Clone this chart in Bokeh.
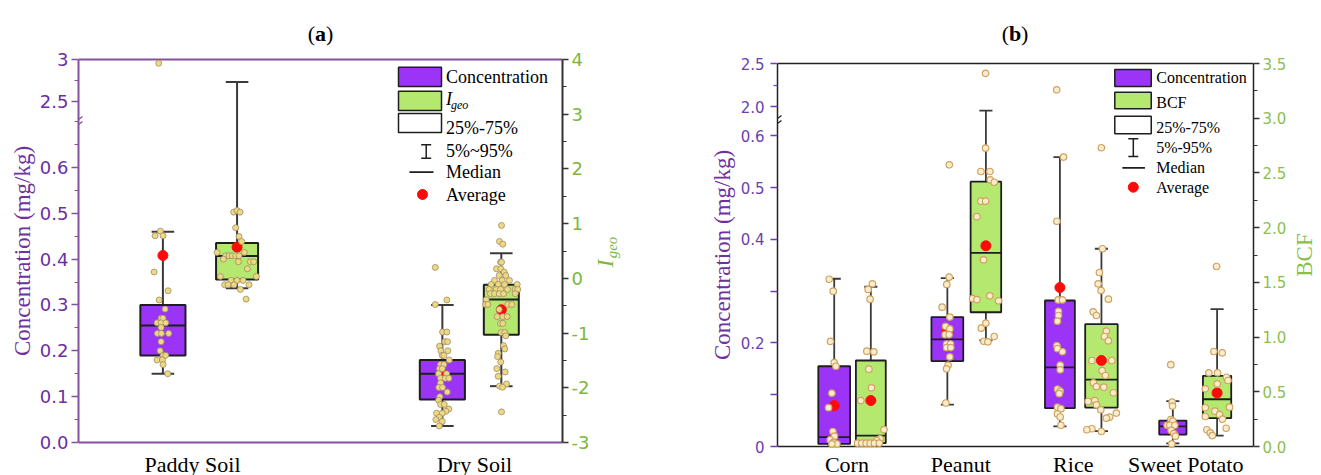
import numpy as np
from bokeh.plotting import figure
from bokeh.models import Range1d, LinearAxis, FixedTicker, Label, Arrow
from bokeh.layouts import row
from bokeh.embed import file_html
from bokeh.resources import INLINE

# ===================== DATA : panel (a) =====================
cats_a = ["Paddy Soil", "Dry Soil"]
# box statistics (5 %, Q1, median, Q3, 95 %, mean)
a_conc_p5 = [0.150, 0.036]
a_conc_q1 = [0.190, 0.094]
a_conc_med = [0.255, 0.150]
a_conc_q3 = [0.300, 0.180]
a_conc_p95 = [0.460, 0.300]
a_conc_mean = [0.408, 0.151]
a_igeo_p5 = [-0.18, -1.97]
a_igeo_q1 = [-0.02, -1.03]
a_igeo_med = [0.41, -0.386]
a_igeo_q3 = [0.645, -0.117]
a_igeo_p95 = [3.59, 0.46]
a_igeo_mean = [0.57, -0.574]

# individual samples (value, horizontal jitter in px)
a_paddy_conc = [2.956, 0.461, 0.451, 0.451, 0.372, 0.331, 0.311, 0.291, 0.271, 0.271, 0.261, 0.261, 0.261,
                0.251, 0.238, 0.238, 0.238, 0.220, 0.200, 0.190, 0.190, 0.180, 0.180, 0.170, 0.150]
a_paddy_conc_jit = [-4.2, -2.5, -7.8, 0.2, -8.8, 5.2, -3.8, 2.2, -1.8, 0.0, -5.8, -1.8, 2.8,
                    -1.8, -5.5, -1.5, 5.8, -1.8, -2.8, 0.2, 2.8, -5.8, -0.5, 0.2, 4.8]
a_paddy_igeo = [1.21, 1.24, 1.21, 0.925, 0.766, 0.674, 0.473, 0.473, 0.413, 0.413, 0.413, 0.413, 0.413,
                0.351, 0.303, 0.303, 0.303, 0.175, 0.035, 0.035, -0.038, -0.038, -0.038,
                -0.117, -0.117, -0.117, -0.117, -0.203, -0.38]
a_paddy_igeo_jit = [-3.4, 0, 3, -1.4, 2, 4.6, -20, 7.3, -11.4, -8, -4.7, -1.4, 2,
                    -13.7, 1.3, 13.3, 16.6, 10.3, -16.7, 19.3, -6, 0, 6,
                    -12.4, -9, -3, 12, 3.3, 9]
a_dry_conc = [0.382, 0.311, 0.301, 0.241, 0.241, 0.220, 0.220, 0.210, 0.200, 0.200, 0.190, 0.190, 0.180,
              0.170, 0.170, 0.161, 0.161, 0.150, 0.150, 0.140, 0.140, 0.140, 0.130, 0.120, 0.120, 0.110,
              0.100, 0.092, 0.083, 0.083, 0.073, 0.068, 0.064, 0.064, 0.055, 0.050, 0.046, 0.036]
a_dry_conc_jit = [-7.1, 4.5, -7.1, 0.2, 4.5, 2.5, 5.2, -2.8, 5.5, -1.5, -0.1, 1.5, 6.9,
                  -1.8, 1.5, -2.8, -0.1, -3.8, 4.2, -1.8, 2.9, 6.5, -1.8, -3.5, 0.2, 4.9,
                  -2.5, -3.8, -1.8, 1.9, 6.5, 3.5, -0.1, -5.8, -3.1, -6.5, -0.1, -3.1]
a_dry_igeo = [0.967, 0.674, 0.625, 0.296, 0.296, 0.175, 0.175, 0.113, 0.053, 0.053, -0.038, -0.038, -0.038,
              -0.11, -0.11, -0.11, -0.11, -0.203, -0.203, -0.203, -0.203, -0.203, -0.203,
              -0.28, -0.28, -0.28, -0.28, -0.28, -0.39, -0.477, -0.477, -0.477, -0.477, -0.568,
              -0.70, -0.70, -0.70, -0.824, -0.824, -0.99, -0.99, -1.05, -1.23, -1.29, -1.37, -1.43,
              -1.53, -1.65, -1.71, -1.79, -1.93, -1.97, -1.99, -2.44]
a_dry_igeo_jit = [0.2, -1.8, 1.5, -0.8, 0.2, -4.8, -0.5, 2.9, -2.1, 4.5, -6.8, 0.9, 8.2,
                  -10.1, -3.1, 3.2, 15.9, -12.1, -5.1, -0.8, 6.2, 13.9, 16.5,
                  -10.8, -6.8, -2.1, 2.2, 13.9, -15.1, -15.8, -13.5, 6.5, 10.5, -2.1,
                  -4.1, 1.5, 5.9, -0.8, 1.5, -0.1, 3.5, 4.5, 2.2, 3.5, -3.1, -3.8,
                  -0.5, -4.5, 3.9, -3.1, 5.2, -1.8, 1.2, 0.2]

a_left_ticks = [0.0, 0.1, 0.2, 0.3, 0.4, 0.5, 0.6, 2.5, 3.0]
a_left_labels = ["0.0", "0.1", "0.2", "0.3", "0.4", "0.5", "0.6", "2.5", "3"]
a_left_minor = [0.05, 0.15, 0.25, 0.35, 0.45, 0.55, 0.65, 0.7, 2.75]
a_right_ticks = [-3, -2, -1, 0, 1, 2, 3, 4]
a_right_labels = ["-3", "-2", "-1", "0", "1", "2", "3", "4"]
a_right_minor = [-2.5, -1.5, -0.5, 0.5, 1.5, 2.5, 3.5]

# ===================== DATA : panel (b) =====================
cats_b = ["Corn", "Peanut", "Rice", "Sweet Potato"]
b_conc_p5 = [0.003, 0.081, 0.039, 0.006]
b_conc_q1 = [0.005, 0.165, 0.074, 0.023]
b_conc_med = [0.018, 0.207, 0.153, 0.039]
b_conc_q3 = [0.155, 0.250, 0.282, 0.050]
b_conc_p95 = [0.324, 0.325, 0.559, 0.0875]
b_conc_mean = [0.079, 0.223, 0.307, 0.042]
b_bcf_p5 = [0.02, 0.97, 0.14, 0.10]
b_bcf_q1 = [0.03, 1.227, 0.356, 0.259]
b_bcf_med = [0.10, 1.77, 0.612, 0.432]
b_bcf_q3 = [0.786, 2.42, 1.118, 0.646]
b_bcf_p95 = [1.46, 3.07, 1.807, 1.255]
b_bcf_mean = [0.42, 1.834, 0.786, 0.49]

b_corn_conc = [0.323, 0.300, 0.203, 0.162, 0.155, 0.103, 0.075, 0.029, 0.020, 0.013, 0.008, 0.005, 0.005]
b_corn_conc_jit = [-5.0, -1.0, -3.7, 0.0, 1.7, -2.3, -5.7, -1.3, 0.3, -4.0, -0.7, 2.7, -2.3]
b_corn_bcf = [1.487, 1.435, 1.346, 0.871, 0.865, 0.707, 0.536, 0.420, 0.155, 0.070, 0.055,
              0.030, 0.030, 0.030, 0.030, 0.030, 0.030]
b_corn_bcf_jit = [1.6, -2.7, -0.7, -4.0, 3.0, -2.0, 0.6, -10.0, 13.3, 9.3, 6.0,
                  -13.3, -9.0, -4.7, -0.7, 3.6, 8.6]
b_peanut_conc = [0.544, 0.327, 0.313, 0.269, 0.250, 0.232, 0.227, 0.216, 0.216, 0.198, 0.198, 0.191,
                 0.191, 0.173, 0.157, 0.150, 0.084]
b_peanut_conc_jit = [2.0, 1.9, -0.6, -5.2, 2.5, -1.8, 2.5, -2.2, 1.8, -0.8, 3.2, -0.8,
                     3.5, 2.5, 0.8, -0.8, -1.5]
b_peanut_bcf = [3.41, 2.726, 2.513, 2.513, 2.437, 2.415, 2.242, 2.242, 2.10, 1.706, 1.377, 1.352,
                1.343, 1.331, 1.127, 1.081, 1.005, 0.962, 0.957]
b_peanut_bcf_jit = [-0.3, -0.3, -5.0, 4.0, 4.4, 8.4, -5.0, -0.3, -9.0, -2.3, 4.0, -13.3,
                    -9.0, 12.7, 0.0, -4.6, 8.4, -2.0, 2.0]
b_rice_conc = [2.194, 0.559, 0.435, 0.283, 0.283, 0.261, 0.253, 0.242, 0.195, 0.189, 0.183, 0.157,
               0.148, 0.111, 0.107, 0.102, 0.076, 0.073, 0.063, 0.057, 0.041]
b_rice_conc_jit = [-3.2, 3.6, -3.0, -1.7, 2.6, -1.4, -1.4, -2.4, -3.0, -2.4, 2.6, 0.3,
                   0.3, -2.4, 0.3, -0.7, -2.4, 1.0, -2.4, 0.3, 1.0]
b_rice_bcf = [2.73, 1.807, 1.59, 1.487, 1.426, 1.346, 1.231, 1.197, 1.054, 1.005, 0.966, 0.786, 0.786,
              0.694, 0.649, 0.582, 0.548, 0.542, 0.491, 0.42, 0.411, 0.381, 0.335, 0.305, 0.268,
              0.259, 0.162, 0.153, 0.137]
b_rice_bcf_jit = [0.0, 1.0, -2.0, -3.3, -0.3, 7.0, -8.3, -5.0, 5.0, 3.0, 7.0, -9.6, 10.4,
                  0.7, 4.0, -8.0, -5.0, 2.4, 12.0, -6.6, -13.3, -5.0, -0.6, 15.0, 8.3,
                  5.0, -9.6, -14.6, 0.0]
b_sp_conc = [0.158, 0.0857, 0.078, 0.052, 0.049, 0.041, 0.041, 0.041, 0.031, 0.025, 0.020, 0.005]
b_sp_conc_jit = [-2.0, -0.7, -0.3, -2.0, 0.0, -5.7, -3.0, 2.0, -1.7, 1.0, 2.7, -1.0]
b_sp_bcf = [1.645, 0.868, 0.856, 0.673, 0.673, 0.633, 0.603, 0.573, 0.527, 0.359, 0.354, 0.323,
            0.292, 0.274, 0.25, 0.167, 0.153, 0.125, 0.10]
b_sp_bcf_jit = [-0.5, -3.2, 5.2, -8.2, 0.5, 9.5, 11.0, 0.2, -11.8, 12.5, -11.8, -2.2,
                2.5, -11.8, 5.5, 9.2, -10.2, -6.8, -4.8]

b_left_ticks = [0.0, 0.1, 0.2, 0.3, 0.4, 0.5, 0.6, 2.0, 2.5]
b_left_labels = ["0", "", "0.2", "", "0.4", "0.5", "0.6", "2.0", "2.5"]
b_left_minor = [2.25]
b_right_ticks = [0.0, 0.5, 1.0, 1.5, 2.0, 2.5, 3.0, 3.5]
b_right_labels = ["0.0", "0.5", "1.0", "1.5", "2.0", "2.5", "3.0", "3.5"]
b_right_minor = [0.25, 0.75, 1.25, 1.75, 2.25, 2.75, 3.25]

# ===================== STYLE / LAYOUT =====================
PURPLE_FILL = "#9B34F6"
GREEN_FILL = "#B4E86F"
BOX_LINE = "#1E1E1E"
WHISK = "#3A3A3A"
MEAN_RED = "#FF0A0A"
SERIF = "Liberation Serif"
SANS = "DejaVu Sans"
A_PURPLE_LINE = "#84509F"
A_PURPLE_TXT = "#6A2FA6"
A_GREEN_TXT = "#7CB83C"
B_PURPLE_TXT = "#6B3FB2"
B_GREEN_TXT = "#8BBF4C"
LABEL_PURPLE = "#7030A0"

# broken left axes: lower segment linear, upper segment compressed
A_LO_TOP, A_HI_BOT, A_HI_TOP, A_HI_K = 0.70, 2.26, 3.0, 84.0 / 458.6
B_LO_TOP, B_HI_BOT, B_HI_TOP, B_HI_K = 0.63, 1.84, 2.5, 86.0 / 517.5


def ta(v):
    v = np.asarray(v, dtype=float)
    return np.where(v <= A_LO_TOP, v, A_LO_TOP + (v - A_HI_BOT) * A_HI_K)


def tb(v):
    v = np.asarray(v, dtype=float)
    return np.where(v <= B_LO_TOP, v, B_LO_TOP + (v - B_HI_BOT) * B_HI_K)


def ident(v):
    return np.asarray(v, dtype=float)


A_YMAX = float(ta(A_HI_TOP))
B_YMAX = float(tb(B_HI_TOP))

H = 475
# figure placement (page px); frames span the full height, plot boxes are drawn inside
L_W = 36
A_W, A_BL, A_BR = 556, 42, 30
M_W = 145
B_W, B_BL, B_BR = 552, 40, 34
R_W = 1321 - L_W - A_W - M_W - B_W
A_X = L_W
M_X = A_X + A_W
B_X = M_X + M_W
R_X = B_X + B_W
A_FL, A_FW = A_X + A_BL, A_W - A_BL - A_BR
B_FL, B_FW = B_X + B_BL, B_W - B_BL - B_BR
A_PT, A_PB = 59, 442      # plot box top / bottom (page px)
B_PT, B_PB = 63, 446

A_X0, A_X1 = 0.5957, 2.312
A_PXU = A_FW / (A_X1 - A_X0)
A_CAT = [1, 2]
A_LABEL_SHIFT = [0.0, 0.0]
A_OFF_CONC, A_OFF_IGEO = [-0.105, -0.114], [0.158, 0.095]
A_W_CONC, A_W_IGEO = [0.160, 0.160], [0.149, 0.124]
A_CAP = 0.08

B_X0, B_X1 = 0.3417, 4.5153
B_PXU = B_FW / (B_X1 - B_X0)
B_CAT = [1, 2, 3, 4]
B_LABEL_SHIFT = [-0.050, -0.051, -0.065, -0.079]
B_OFF_CONC, B_OFF_BCF = [-0.161, -0.169, -0.182, -0.192], [0.160, 0.169, 0.182, 0.196]
B_W_CONC, B_W_BCF = [0.279, 0.279, 0.262, 0.239], [0.262, 0.268, 0.285, 0.248]
B_CAP = 0.115

# vertical ranges extended so that the plot box sits at the right place
KA = (A_PB - A_PT) / A_YMAX
A_Y0, A_Y1 = -(H - A_PB) / KA, A_YMAX + A_PT / KA
KI = (A_PB - A_PT) / 7.0
I_Y0, I_Y1 = -3 - (H - A_PB) / KI, 4 + A_PT / KI
KB = (B_PB - B_PT) / B_YMAX
B_Y0, B_Y1 = -(H - B_PB) / KB, B_YMAX + B_PT / KB
KC = (B_PB - B_PT) / 3.5
C_Y0, C_Y1 = -(H - B_PB) / KC, 3.5 + B_PT / KC


def mapper(fl, fw, x0, x1, y0, y1):
    def mx(px):
        return x0 + (px - fl) / fw * (x1 - x0)

    def my(py):
        return y0 + (H - py) / H * (y1 - y0)
    return mx, my


def boxes(p, xc, w, capw, p5, q1, med, q3, p95, tf, rng, fill, lw):
    xc = np.asarray(xc, float)
    w = np.asarray(w, float)
    kw = dict(line_color=WHISK, line_width=lw, y_range_name=rng)
    p.segment(x0=xc, y0=tf(q3), x1=xc, y1=tf(p95), **kw)
    p.segment(x0=xc, y0=tf(p5), x1=xc, y1=tf(q1), **kw)
    p.segment(x0=xc - capw / 2, y0=tf(p95), x1=xc + capw / 2, y1=tf(p95), **kw)
    p.segment(x0=xc - capw / 2, y0=tf(p5), x1=xc + capw / 2, y1=tf(p5), **kw)
    p.quad(left=xc - w / 2, right=xc + w / 2, bottom=tf(q1), top=tf(q3), fill_color=fill,
           line_color=BOX_LINE, line_width=lw, y_range_name=rng)
    p.segment(x0=xc - w / 2, y0=tf(med), x1=xc + w / 2, y1=tf(med), line_color=BOX_LINE,
              line_width=lw, y_range_name=rng)


def pts(p, xc, vals, jit, pxu, tf, rng, size, fill, line, lw):
    x = xc + np.asarray(jit, float) / pxu
    p.scatter(x=x, y=tf(vals), size=size, fill_color=fill, line_color=line, line_width=lw,
              y_range_name=rng)


def lab(p, x, y, text, size, color="black", font=SERIF, style="normal", align="left",
        baseline="middle", angle=0.0):
    p.add_layout(Label(x=x, y=y, text=text, text_font=font, text_font_size=size,
                       text_color=color, text_font_style=style, text_align=align,
                       text_baseline=baseline, angle=angle))


def style_axis(ax, line_color, tick_color, txt_color, size, lw, tick_out, standoff, bounds):
    ax.bounds = bounds
    ax.axis_line_color = line_color
    ax.axis_line_width = lw
    ax.major_tick_line_color = tick_color
    ax.minor_tick_line_color = tick_color
    ax.major_tick_line_width = 1.5
    ax.minor_tick_line_width = 1.2
    ax.major_tick_in = 0
    ax.major_tick_out = tick_out
    ax.minor_tick_in = 0
    ax.minor_tick_out = 4
    ax.major_label_text_font = SANS
    ax.major_label_text_font_size = size
    ax.major_label_text_color = txt_color
    ax.major_label_standoff = standoff
    ax.axis_label = None


def legend(p, mx, my, sx0, sx1, rows_sw, txt_x, texts, bar_x, bar_y, capw, med_x, med_y, dot, fsize,
           second_label, sub):
    fills = [PURPLE_FILL, GREEN_FILL, "white"]
    for (t, b), f in zip(rows_sw, fills):
        p.quad(left=[mx(sx0)], right=[mx(sx1)], top=[my(t)], bottom=[my(b)], fill_color=f,
               line_color=BOX_LINE, line_width=1.5)
    p.segment(x0=[mx(bar_x)], y0=[my(bar_y[0])], x1=[mx(bar_x)], y1=[my(bar_y[1])],
              line_color=BOX_LINE, line_width=1.5)
    for yy in bar_y:
        p.segment(x0=[mx(bar_x - capw / 2)], y0=[my(yy)], x1=[mx(bar_x + capw / 2)], y1=[my(yy)],
                  line_color=BOX_LINE, line_width=1.5)
    p.segment(x0=[mx(med_x[0])], y0=[my(med_y)], x1=[mx(med_x[1])], y1=[my(med_y)],
              line_color=BOX_LINE, line_width=1.8)
    p.scatter(x=[mx(dot[0])], y=[my(dot[1])], size=dot[2], fill_color=MEAN_RED, line_color=MEAN_RED)
    for (t, yy) in texts:
        lab(p, mx(txt_x), my(yy), t, fsize)
    t, yy = second_label
    if sub:
        lab(p, mx(txt_x), my(yy), "I", fsize, style="italic")
        lab(p, mx(txt_x + 5), my(yy + 6), "geo", "12px", style="italic")
    else:
        lab(p, mx(txt_x), my(yy), t, fsize)


def axis_break(p, mx, my, px, py, color):
    for d in (-2.5, 2.5):
        p.add_layout(Arrow(end=None, x_start=mx(px), y_start=my(py + d + 1.5), x_end=mx(px + 4),
                           y_end=my(py + d - 1.5), line_color=color, line_width=1.3))


def base_fig(w, bl, br, xr, yr):
    p = figure(width=w, height=H, x_range=xr, y_range=yr, x_axis_location=None,
               y_axis_location=("left" if bl else None), title=None, toolbar_location=None,
               output_backend="svg", min_border_left=bl, min_border_right=br,
               min_border_top=0, min_border_bottom=0)
    p.grid.visible = False
    p.outline_line_color = None
    p.background_fill_color = "white"
    p.border_fill_color = "white"
    return p


def strip(x_start, w):
    return base_fig(w, 0, 0, Range1d(x_start, x_start + w), Range1d(H, 0))


# ===================== PANEL (a) =====================
pa = base_fig(A_W, A_BL, A_BR, Range1d(A_X0, A_X1), Range1d(A_Y0, A_Y1))
pa.extra_y_ranges = {"igeo": Range1d(I_Y0, I_Y1)}

ya = pa.yaxis[0]
a_ticks_t = [float(ta(v)) for v in a_left_ticks]
ya.ticker = FixedTicker(ticks=a_ticks_t, minor_ticks=[float(ta(v)) for v in a_left_minor])
ya.major_label_overrides = {t: s for t, s in zip(a_ticks_t, a_left_labels)}
style_axis(ya, A_PURPLE_LINE, A_PURPLE_LINE, A_PURPLE_TXT, "18px", 2, 7, 3, (0, A_YMAX))

yra = LinearAxis(y_range_name="igeo")
yra.ticker = FixedTicker(ticks=[float(v) for v in a_right_ticks], minor_ticks=a_right_minor)
yra.major_label_overrides = {float(t): s for t, s in zip(a_right_ticks, a_right_labels)}
style_axis(yra, "#333333", "#333333", A_GREEN_TXT, "18px", 2, 6, 3, (-3, 4))
pa.add_layout(yra, "right")

# top / bottom lines of the plot box
pa.segment(x0=[A_X0, A_X0], y0=[0, A_YMAX], x1=[A_X1, A_X1], y1=[0, A_YMAX],
           line_color=A_PURPLE_LINE, line_width=2)

a_xc_conc = [c + o for c, o in zip(A_CAT, A_OFF_CONC)]
a_xc_igeo = [c + o for c, o in zip(A_CAT, A_OFF_IGEO)]
boxes(pa, a_xc_conc, A_W_CONC, A_CAP, a_conc_p5, a_conc_q1, a_conc_med, a_conc_q3, a_conc_p95,
      ta, "default", PURPLE_FILL, 2)
boxes(pa, a_xc_igeo, A_W_IGEO, A_CAP, a_igeo_p5, a_igeo_q1, a_igeo_med, a_igeo_q3, a_igeo_p95,
      ident, "igeo", GREEN_FILL, 2)
pa.scatter(x=a_xc_conc, y=ta(a_conc_mean), size=10, fill_color=MEAN_RED, line_color=MEAN_RED)
pa.scatter(x=a_xc_igeo, y=a_igeo_mean, size=10, fill_color=MEAN_RED, line_color=MEAN_RED,
           y_range_name="igeo")
PA_FILL, PA_LINE = "#EDD97F", "#A08C6C"
pts(pa, a_xc_conc[0], a_paddy_conc, a_paddy_conc_jit, A_PXU, ta, "default", 6, PA_FILL, PA_LINE, 0.8)
pts(pa, a_xc_conc[1], a_dry_conc, a_dry_conc_jit, A_PXU, ta, "default", 6, PA_FILL, PA_LINE, 0.8)
pts(pa, a_xc_igeo[0], a_paddy_igeo, a_paddy_igeo_jit, A_PXU, ident, "igeo", 6, PA_FILL, PA_LINE, 0.8)
pts(pa, a_xc_igeo[1], a_dry_igeo, a_dry_igeo_jit, A_PXU, ident, "igeo", 6, PA_FILL, PA_LINE, 0.8)

amx, amy = mapper(A_FL, A_FW, A_X0, A_X1, A_Y0, A_Y1)
legend(pa, amx, amy, 398, 441, [(66.7, 86), (90.7, 110), (113, 132)], 445.5,
       [("Concentration", 76.7), ("25%-75%", 127.3), ("5%~95%", 150), ("Median", 171.7),
        ("Average", 194)],
       425.7, (144.3, 157.7), 10, (409, 433), 171.7, (422, 194, 10), "18px", ("Igeo", 98.5), True)
axis_break(pa, amx, amy, A_FL, 120, A_PURPLE_LINE)

for c, s, name in zip(A_CAT, A_LABEL_SHIFT, cats_a):
    lab(pa, c + s, amy(451), name, "22px", align="center", baseline="top")
lab(pa, amx(310.9), amy(32.5), "(", "22px", align="center")
lab(pa, amx(320.0), amy(32.5), "a", "22px", style="bold", align="center")
lab(pa, amx(329.1), amy(32.5), ")", "22px", align="center")

# ===================== PANEL (b) =====================
pb = base_fig(B_W, B_BL, B_BR, Range1d(B_X0, B_X1), Range1d(B_Y0, B_Y1))
pb.extra_y_ranges = {"bcf": Range1d(C_Y0, C_Y1)}

yb = pb.yaxis[0]
b_ticks_t = [float(tb(v)) for v in b_left_ticks]
yb.ticker = FixedTicker(ticks=b_ticks_t, minor_ticks=[float(tb(v)) for v in b_left_minor])
yb.major_label_overrides = {t: s for t, s in zip(b_ticks_t, b_left_labels)}
style_axis(yb, "#222222", B_PURPLE_TXT, B_PURPLE_TXT, "15px", 1.5, 7, 6, (0, B_YMAX))

yrb = LinearAxis(y_range_name="bcf")
yrb.ticker = FixedTicker(ticks=b_right_ticks, minor_ticks=b_right_minor)
yrb.major_label_overrides = {float(t): s for t, s in zip(b_right_ticks, b_right_labels)}
style_axis(yrb, "#222222", "#333333", B_GREEN_TXT, "15px", 1.5, 6, 3, (0, 3.5))
pb.add_layout(yrb, "right")

pb.segment(x0=[B_X0, B_X0], y0=[0, B_YMAX], x1=[B_X1, B_X1], y1=[0, B_YMAX],
           line_color="#222222", line_width=1.5)

b_xc_conc = [c + o for c, o in zip(B_CAT, B_OFF_CONC)]
b_xc_bcf = [c + o for c, o in zip(B_CAT, B_OFF_BCF)]
boxes(pb, b_xc_conc, B_W_CONC, B_CAP, b_conc_p5, b_conc_q1, b_conc_med, b_conc_q3, b_conc_p95,
      tb, "default", PURPLE_FILL, 1.8)
boxes(pb, b_xc_bcf, B_W_BCF, B_CAP, b_bcf_p5, b_bcf_q1, b_bcf_med, b_bcf_q3, b_bcf_p95,
      ident, "bcf", GREEN_FILL, 1.8)
pb.scatter(x=b_xc_conc, y=tb(b_conc_mean), size=10, fill_color=MEAN_RED, line_color=MEAN_RED)
pb.scatter(x=b_xc_bcf, y=b_bcf_mean, size=10, fill_color=MEAN_RED, line_color=MEAN_RED,
           y_range_name="bcf")
PB_FILL, PB_LINE = "#FBEDCB", "#CFA261"
b_conc_sets = [(b_corn_conc, b_corn_conc_jit), (b_peanut_conc, b_peanut_conc_jit),
               (b_rice_conc, b_rice_conc_jit), (b_sp_conc, b_sp_conc_jit)]
b_bcf_sets = [(b_corn_bcf, b_corn_bcf_jit), (b_peanut_bcf, b_peanut_bcf_jit),
              (b_rice_bcf, b_rice_bcf_jit), (b_sp_bcf, b_sp_bcf_jit)]
for xc, (v, j) in zip(b_xc_conc, b_conc_sets):
    pts(pb, xc, v, j, B_PXU, tb, "default", 6.5, PB_FILL, PB_LINE, 1.2)
for xc, (v, j) in zip(b_xc_bcf, b_bcf_sets):
    pts(pb, xc, v, j, B_PXU, ident, "bcf", 6.5, PB_FILL, PB_LINE, 1.2)

bmx, bmy = mapper(B_FL, B_FW, B_X0, B_X1, B_Y0, B_Y1)
legend(pb, bmx, bmy, 1115.7, 1152.3, [(69, 86), (91.7, 108.3), (115.7, 133.3)], 1157.3,
       [("Concentration", 77.3), ("25%-75%", 127.3), ("5%-95%", 147.3), ("Median", 167.3),
        ("Average", 186.7)],
       1134.3, (138.3, 156), 10, (1123.3, 1146), 167.3, (1134.3, 186.7, 10), "16px", ("BCF", 101.7), False)
axis_break(pb, bmx, bmy, B_FL, 119, "#222222")

for c, s, name in zip(B_CAT, B_LABEL_SHIFT, cats_b):
    lab(pb, c + s, bmy(451), name, "22px", align="center", baseline="top")
lab(pb, bmx(1005.8), bmy(32.5), "(", "22px", align="center")
lab(pb, bmx(1015.5), bmy(32.5), "b", "22px", style="bold", align="center")
lab(pb, bmx(1025.2), bmy(32.5), ")", "22px", align="center")

# ===================== side strips holding the axis titles =====================
sl = strip(0, L_W)
lab(sl, 22, 250.5, "Concentration (mg/kg)", "23px", color=LABEL_PURPLE, align="center",
    angle=np.pi / 2)

sm = strip(M_X, M_W)
lab(sm, 605, 263, "I", "23px", color=A_GREEN_TXT, style="italic", align="center", angle=np.pi / 2)
lab(sm, 611, 247, "geo", "15px", color=A_GREEN_TXT, style="italic", align="center", angle=np.pi / 2)
lab(sm, 722, 254.5, "Concentration (mg/kg)", "23px", color=LABEL_PURPLE, align="center",
    angle=np.pi / 2)

sr = strip(R_X, R_W)
lab(sr, 1304, 254.5, "BCF", "23px", color=B_GREEN_TXT, align="center", angle=np.pi / 2)

layout = row(sl, pa, sm, pb, sr)
open("out.html", "w").write(file_html(layout, INLINE))
